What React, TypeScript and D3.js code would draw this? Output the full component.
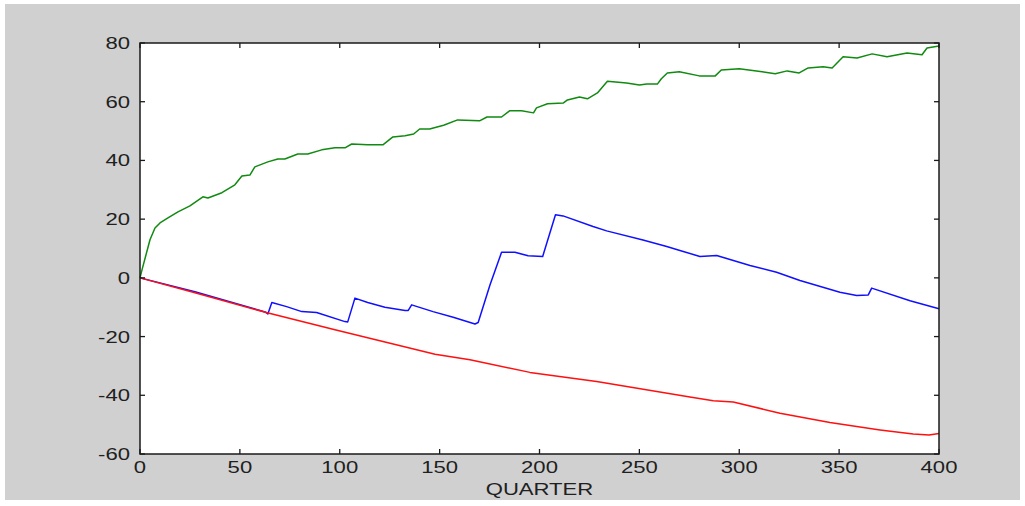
import { useEffect, useRef } from 'react';
import * as d3 from 'd3';

// quarter / value pairs
const greenQ = [0, 1, 5, 7.5, 10, 14, 19, 25, 31.5, 34, 41, 47.5, 51, 55, 57.5, 64, 69, 72.5, 79, 84, 91, 97.6, 102.6, 106, 114, 121.6, 126.6, 132.7, 137, 140, 145, 152, 159, 170, 173.7, 181, 185, 191, 197, 198.5, 204, 212, 214, 220, 224, 229, 234, 243.6, 250, 253.7, 259, 261, 264, 270, 280, 288, 291, 300, 308.6, 318, 324, 330, 334.5, 342, 346.5, 352, 359, 366.5, 374, 384, 391.5, 394, 400];
const greenV = [0, 2.7, 13, 17, 18.7, 20.4, 22.5, 24.5, 27.6, 27.2, 29, 31.7, 34.7, 35, 37.8, 39.5, 40.5, 40.5, 42.2, 42.2, 43.6, 44.3, 44.3, 45.6, 45.3, 45.3, 48, 48.4, 49, 50.7, 50.7, 52, 53.8, 53.5, 54.8, 54.8, 56.9, 56.9, 56.2, 57.9, 59.3, 59.6, 60.6, 61.6, 61, 63, 67, 66.4, 65.7, 66, 66, 67.8, 69.8, 70.2, 68.8, 68.8, 70.8, 71.2, 70.5, 69.5, 70.5, 69.8, 71.5, 71.9, 71.5, 75.3, 74.9, 76.3, 75.3, 76.6, 76, 78.3, 79];

const blueQ = [0, 27.5, 62.6, 64, 66, 73.4, 81, 88.4, 102.6, 104, 107.6, 114, 122.6, 132.7, 134.3, 136, 146.7, 156.8, 167.7, 169.3, 175.2, 181, 187.7, 194.3, 201.6, 208, 211.8, 226.8, 233.6, 251.8, 263.7, 270.3, 280.3, 288.7, 305.4, 318.7, 330.4, 350.4, 358.8, 364.6, 366.3, 385.5, 400];
const blueV = [0, -4.7, -11.6, -12.3, -8.4, -9.8, -11.5, -11.8, -14.9, -15, -6.9, -8.4, -10, -11.1, -11.1, -9.2, -11.5, -13.4, -15.7, -15.2, -2.4, 8.7, 8.7, 7.5, 7.3, 21.5, 21.1, 17.5, 16, 12.9, 10.7, 9.3, 7.3, 7.6, 4.2, 1.9, -0.9, -4.9, -6, -5.8, -3.5, -7.8, -10.5];

const redQ = [0, 27.5, 64.2, 97.6, 147.7, 165.2, 195.2, 228.6, 275.3, 287, 297, 320.4, 345.4, 370.5, 387.1, 395, 400];
const redV = [0, -5.1, -12, -17.7, -26, -27.9, -32.2, -35.3, -40.6, -41.9, -42.3, -46.1, -49.3, -51.8, -53.2, -53.5, -53];

const xTicks = [0, 50, 100, 150, 200, 250, 300, 350, 400];
const yTicks = [-60, -40, -20, 0, 20, 40, 60, 80];

const App = () => {
  const ref = useRef<SVGSVGElement>(null);

  useEffect(() => {
    if (!ref.current) return;
    const svg = d3.select(ref.current);
    svg.selectAll('*').remove();

    const W = 1025;
    const H = 506;
    const left = 140, right = 939, top = 43, bottom = 454;

    // figure background with thin white border
    svg.append('rect').attr('width', W).attr('height', H).attr('fill', '#ffffff');
    svg.append('rect')
      .attr('x', 5).attr('y', 4)
      .attr('width', 1015).attr('height', 496)
      .attr('fill', '#d0d0d0');

    const x = d3.scaleLinear().domain([0, 400]).range([left, right]);
    const y = d3.scaleLinear().domain([-60, 80]).range([bottom, top]);

    // axes area
    svg.append('rect')
      .attr('x', left).attr('y', top)
      .attr('width', right - left).attr('height', bottom - top)
      .attr('fill', '#ffffff');

    const drawSeries = (qs: number[], vs: number[], color: string) => {
      const line = d3.line<number>()
        .x((q) => x(q))
        .y((_, i) => y(vs[i]));
      svg.append('path')
        .attr('d', line(qs))
        .attr('fill', 'none')
        .attr('stroke', color)
        .attr('stroke-width', 1.5)
        .attr('stroke-linejoin', 'round');
    };

    // blue under red so the shared start stays red
    drawSeries(greenQ, greenV, '#108a10');
    drawSeries(blueQ, blueV, '#1010ff');
    drawSeries(redQ, redV, '#ff1010');

    // box
    svg.append('rect')
      .attr('x', left).attr('y', top)
      .attr('width', right - left).attr('height', bottom - top)
      .attr('fill', 'none')
      .attr('stroke', '#1a1a1a')
      .attr('stroke-width', 1.5);

    // inward ticks on all four sides
    const tickLen = 5;
    const ticks = svg.append('g').attr('stroke', '#1a1a1a').attr('stroke-width', 1.3);
    xTicks.forEach((t) => {
      ticks.append('line').attr('x1', x(t)).attr('x2', x(t)).attr('y1', bottom).attr('y2', bottom - tickLen);
      ticks.append('line').attr('x1', x(t)).attr('x2', x(t)).attr('y1', top).attr('y2', top + tickLen);
    });
    yTicks.forEach((t) => {
      ticks.append('line').attr('x1', left).attr('x2', left + tickLen).attr('y1', y(t)).attr('y2', y(t));
      ticks.append('line').attr('x1', right).attr('x2', right - tickLen).attr('y1', y(t)).attr('y2', y(t));
    });

    const font = "'Liberation Sans', Arial, sans-serif";
    const label = (tx: number, ty: number, txt: string, anchor: string) => {
      svg.append('g')
        .attr('transform', `translate(${tx},${ty}) scale(1.3,1)`)
        .append('text')
        .attr('text-anchor', anchor)
        .style('font-family', font)
        .style('font-size', '17px')
        .attr('fill', '#202020')
        .text(txt);
    };

    xTicks.forEach((t) => label(x(t), 473, String(t), 'middle'));
    yTicks.forEach((t) => label(130, y(t) + 6, String(t), 'end'));
    label((left + right) / 2, 495, 'QUARTER', 'middle');
  }, []);

  return (
    <div style={{ position: 'absolute', left: 0, top: 0 }}>
      <svg ref={ref} width={1025} height={506} style={{ display: 'block' }} />
    </div>
  );
};

export default App;
